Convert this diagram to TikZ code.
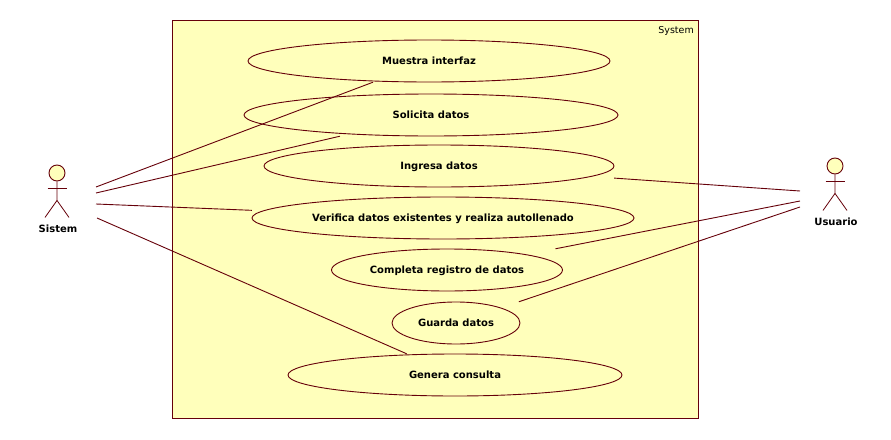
\documentclass[tikz,border=0pt]{standalone}
\usepackage{fontspec}
\setmainfont{DejaVu Sans}
\usetikzlibrary{positioning,shapes.geometric}
\definecolor{umlline}{RGB}{102,0,10}
\definecolor{umlfill}{RGB}{255,255,187}

\begin{document}
\begin{tikzpicture}[x=1pt,y=-1pt,
  boundary/.style={rectangle,draw=umlline,fill=umlfill,line width=1pt,minimum width=526pt,minimum height=398pt,inner sep=0pt},
  usecase/.style={ellipse,draw=umlline,fill=umlfill,line width=0.9pt,inner sep=0pt},
  casebox/.style={rectangle,inner sep=0pt,text height=7.5pt,text depth=0.5pt,font=\bfseries\fontsize{10}{12}\selectfont},
  head/.style={circle,draw=umlline,fill=umlfill,line width=0.9pt,minimum size=16pt,inner sep=0pt},
  actorname/.style={font=\bfseries\fontsize{10}{12}\selectfont},
  assoc/.style={draw=umlline,line width=0.9pt},
  limb/.style={draw=umlline,line width=0.8pt}]
  \useasboundingbox (0,0) rectangle (891,439);
  \fill[white] (0,0) rectangle (891,439);
  % system boundary
  \node[boundary] (SYS) at (435,219) {};
  \node[font=\fontsize{9.5}{11}\selectfont,anchor=north east,inner sep=0pt] (SYSL) at (694,26) {System};
  % use cases: name/x/y/width/text (associations stop at the box round the ellipse)
  \foreach \n/\x/\y/\w/\t in {MUE/429/61/362/Muestra interfaz,
                              SOL/431/115/374/Solicita datos,
                              ING/439/166/350/Ingresa datos,
                              VER/443/218/382/Verifica datos existentes y realiza autollenado,
                              COM/447/270/231/Completa registro de datos,
                              GUA/456/323/128/Guarda datos,
                              GEN/455/375/334/Genera consulta} {
    \node[usecase,minimum width=\w pt,minimum height=42pt] (\n E) at (\x,\y) {};
    \node[casebox,minimum width=\w pt,minimum height=42pt] (\n) at (\x,\y) {\t};
  }
  % actors: name/x/y of head/text
  \foreach \n/\x/\y/\t in {SIS/57/173/Sistem,USU/835/166/Usuario} {
    \node[head] (\n) at (\x,\y) {};
    \draw[limb] (\n.south) -- ++(0,19) coordinate (\n hip) -- ++(-12,17);
    \draw[limb] (\n hip) -- ++(12,17);
    \draw[limb] (\x-9.5,\y+15) -- (\x+9.5,\y+15);
    \node[actorname] (\n L) at (\x+1,\y+55.5) {\t};
  }
  % free ends next to the actors
  \coordinate (S1) at (96,187);
  \coordinate (S2) at (96,193);
  \coordinate (S3) at (96,204);
  \coordinate (S4) at (97,218);
  \coordinate (U1) at (800,191);
  \coordinate (U2) at (800,201);
  \coordinate (U3) at (800,207);
  % associations
  \foreach \a/\b in {S1/MUE,S2/SOL,S3/VER,S4/GEN,U1/ING,U2/COM,U3/GUA} {
    \draw[assoc] (\a) -- (\b);
  }
\end{tikzpicture}
\end{document}
